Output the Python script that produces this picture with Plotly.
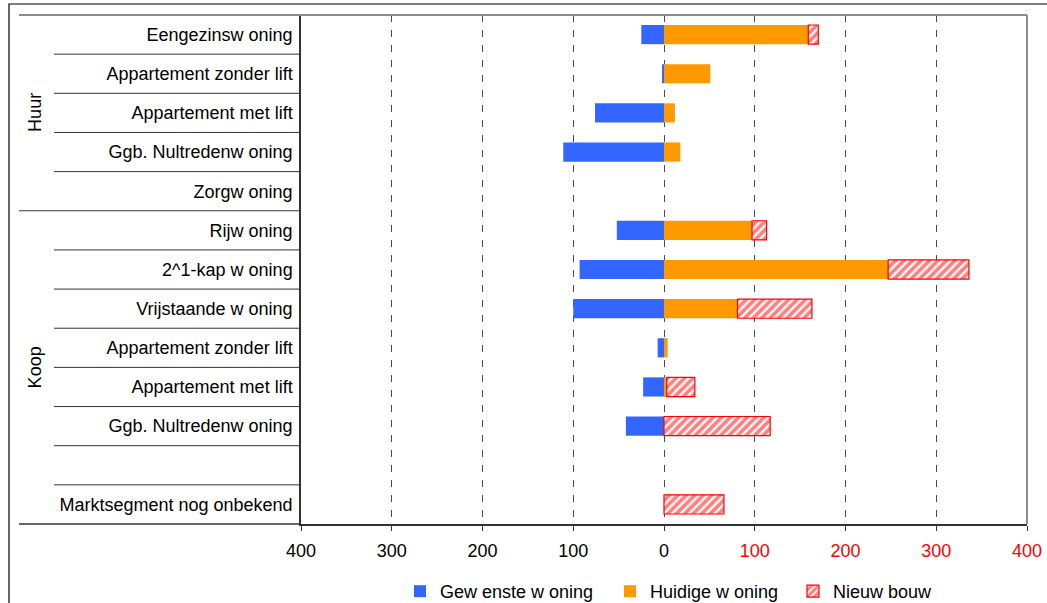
import plotly.graph_objects as go

# Housing segments, top to bottom (the empty entry is a spacer row)
categories = [
    "Eengezinsw oning",
    "Appartement zonder lift",
    "Appartement met lift",
    "Ggb. Nultredenw oning",
    "Zorgw oning",
    "Rijw oning",
    "2^1-kap w oning",
    "Vrijstaande w oning",
    "Appartement zonder lift",
    "Appartement met lift",
    "Ggb. Nultredenw oning",
    "",
    "Marktsegment nog onbekend",
]
groups = ["Huur", "Koop"]
group_sizes = [5, 8]

# Desired dwelling (drawn to the left), current dwelling and new construction
gewenste = [-25, -2, -76, -111, None, -52, -93, -100, -7, -23, -42, None, None]
huidige = [159, 51, 12, 18, None, 97, 247, 81, 4, 3, None, None, None]
nieuwbouw = [11, None, None, None, None, 16, 89, 82, None, 31, 117, None, 66]

series_names = ["Gew enste w oning", "Huidige w oning", "Nieuw bouw"]

tick_values = [-400, -300, -200, -100, 0, 100, 200, 300, 400]
tick_labels = ["400", "300", "200", "100", "0", "100", "200", "300", "400"]

FONT = "Liberation Sans, Arial, sans-serif"
W, H = 1047, 603
ML, MR, MT, MB = 301, 20, 15, 79
PW, PH = W - ML - MR, H - MT - MB


def px_x(px):
    return (px - ML) / PW


def px_y(py):
    return (H - MB - py) / PH


rows = list(range(len(categories)))

fig = go.Figure()
fig.add_trace(go.Bar(
    y=rows, x=gewenste, orientation="h", name=series_names[0], legend="legend",
    marker=dict(color="#3366FF", line=dict(width=0)),
))
fig.add_trace(go.Bar(
    y=rows, x=huidige, orientation="h", name=series_names[1], legend="legend2",
    marker=dict(color="#FF9900", line=dict(width=0)),
))
fig.add_trace(go.Bar(
    y=rows, x=nieuwbouw, orientation="h", name=series_names[2], legend="legend3",
    marker=dict(
        color="white",
        line=dict(color="#FF0000", width=1.2),
        pattern=dict(shape="/", fgcolor="#FF0000", bgcolor="white",
                     size=6, solidity=0.62, fillmode="overlay"),
    ),
))

# Right-hand (new construction) side labels are red
ticktext = [
    f"<span style='color:#FF0000'>{t}</span>" if v > 0 else t
    for v, t in zip(tick_values, tick_labels)
]

shapes = []
n = len(categories)
# Row separators in the label column
start = 0
for gi, size in enumerate(group_sizes):
    for k in range(1, size):
        yb = start + k - 0.5
        shapes.append(dict(type="line", xref="paper", yref="y",
                           x0=px_x(54), x1=0, y0=yb, y1=yb,
                           line=dict(color="#333333", width=1)))
    start += size
# Group divider and bottom rule across the label column
shapes.append(dict(type="line", xref="paper", yref="y",
                   x0=px_x(19), x1=0, y0=group_sizes[0] - 0.5, y1=group_sizes[0] - 0.5,
                   line=dict(color="#333333", width=1.2)))
shapes.append(dict(type="line", xref="paper", yref="paper",
                   x0=px_x(19), x1=0, y0=0, y1=0,
                   line=dict(color="#333333", width=1.5)))
# Top and right frame of the plot area
shapes.append(dict(type="line", xref="paper", yref="paper",
                   x0=px_x(19), x1=1, y0=1, y1=1,
                   line=dict(color="#8C8C8C", width=2)))
shapes.append(dict(type="line", xref="paper", yref="paper",
                   x0=1, x1=1, y0=0, y1=1,
                   line=dict(color="#8C8C8C", width=2)))
# Outer border of the chart
shapes.append(dict(type="rect", xref="paper", yref="paper",
                   x0=px_x(9), x1=px_x(1060), y0=px_y(615), y1=px_y(4),
                   line=dict(color="#000000", width=1.2), fillcolor="rgba(0,0,0,0)"))

# Group labels centred on their rows
annotations = []
start = 0
for name, size in zip(groups, group_sizes):
    annotations.append(dict(
        text=name, xref="paper", yref="y", x=px_x(35), y=start + (size - 1) / 2,
        showarrow=False, textangle=-90, font=dict(family=FONT, size=18, color="black"),
        xanchor="center", yanchor="middle",
    ))
    start += size


def legend_box(left_px):
    return dict(orientation="h", x=px_x(left_px), y=px_y(591.5),
                xanchor="left", yanchor="middle",
                font=dict(family=FONT, size=18, color="black"), itemwidth=30,
                bgcolor="rgba(0,0,0,0)")


fig.update_layout(
    width=W, height=H,
    margin=dict(l=ML, r=MR, t=MT, b=MB, autoexpand=False),
    paper_bgcolor="white", plot_bgcolor="white",
    barmode="relative", bargap=0.51,
    font=dict(family=FONT, size=18, color="black"),
    showlegend=True,
    legend=legend_box(400),
    legend2=legend_box(610),
    legend3=legend_box(793),
    shapes=shapes,
    annotations=annotations,
    xaxis=dict(
        range=[-400, 400], tickvals=tick_values, ticktext=ticktext,
        ticks="outside", ticklen=5, tickcolor="#333333", tickwidth=1,
        showline=True, linecolor="#333333", linewidth=1.5,
        showgrid=True, gridcolor="#4A4A4A", gridwidth=1.3, griddash="7px,8px",
        zeroline=False, ticklabelstandoff=5,
        tickfont=dict(family=FONT, size=18, color="black"),
        fixedrange=True,
    ),
    yaxis=dict(
        range=[n - 0.5, -0.5], tickvals=rows, ticktext=categories,
        ticks="", showline=True, linecolor="#333333", linewidth=1.5,
        showgrid=False, zeroline=False, ticklabelstandoff=3,
        tickfont=dict(family=FONT, size=18, color="black"),
        fixedrange=True,
    ),
)

fig.write_html("out.html")
